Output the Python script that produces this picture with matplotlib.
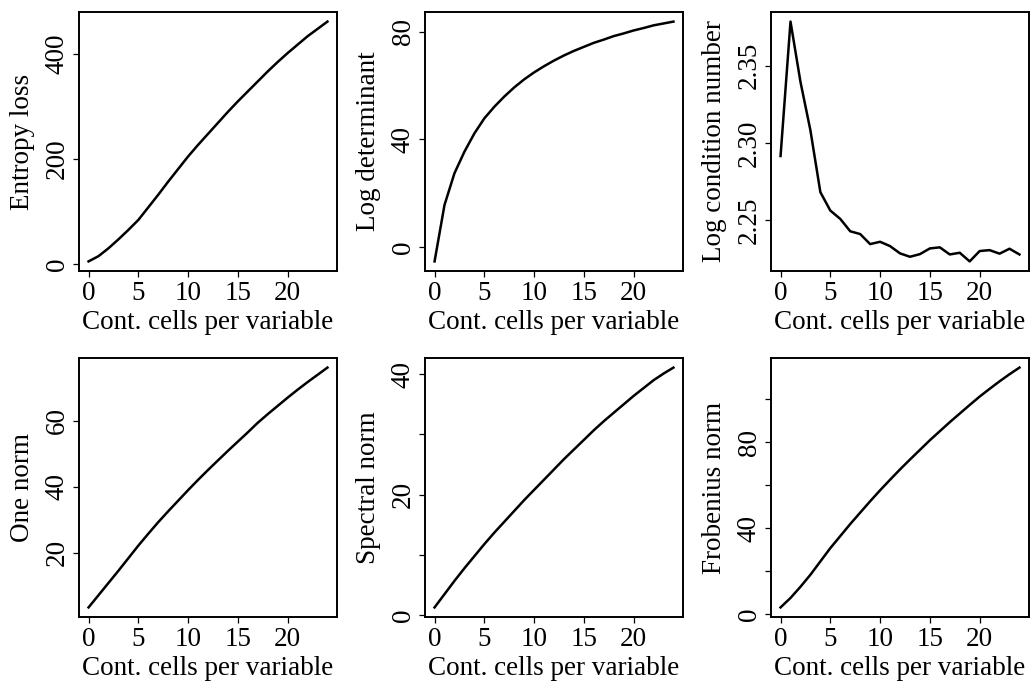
import numpy as np
from matplotlib import pyplot as plt

# Data
cells = list(range(25))

entropy_loss = [5, 15, 30, 47, 65, 84, 108, 132, 157, 181, 205, 227, 248, 269, 290,
                310, 329, 348, 367, 385, 402, 418, 434, 448, 462]
log_det = [-5.4, 15.6, 27.4, 35.4, 42.2, 47.8, 52.1, 55.9, 59.3, 62.3, 64.9, 67.2, 69.3,
           71.2, 72.9, 74.4, 75.9, 77.1, 78.4, 79.4, 80.5, 81.4, 82.4, 83.1, 83.8]
log_cond = [2.2916, 2.3786, 2.3396, 2.3082, 2.2682, 2.2563, 2.2509, 2.2429, 2.2411, 2.2346,
            2.2361, 2.2333, 2.2286, 2.2264, 2.2281, 2.2318, 2.2325, 2.2279, 2.2290, 2.2234,
            2.2301, 2.2307, 2.2284, 2.2316, 2.2279]
one_norm = [3.5, 7.2, 10.9, 14.6, 18.4, 22.2, 25.8, 29.3, 32.6, 35.8, 39.0, 42.1, 45.1,
            48.0, 50.9, 53.7, 56.5, 59.4, 62.0, 64.5, 67.0, 69.4, 71.7, 73.9, 76.1]
spectral_norm = [1.3, 3.5, 5.7, 7.8, 9.8, 11.8, 13.7, 15.5, 17.3, 19.1, 20.8, 22.5, 24.2,
                 25.9, 27.5, 29.1, 30.7, 32.2, 33.6, 35.0, 36.4, 37.7, 39.0, 40.1, 41.1]
frob_norm = [3.1, 7.5, 12.7, 18.3, 24.5, 30.7, 36.3, 41.9, 47.2, 52.5, 57.6, 62.5, 67.3,
             71.9, 76.4, 80.9, 85.1, 89.3, 93.3, 97.3, 101.2, 104.8, 108.3, 111.6, 114.7]

xticks = [0, 5, 10, 15, 20]

# (series, ylabel, tick positions, labelled ticks)
panels = [
	(entropy_loss, "Entropy loss", [0, 200, 400], ["0", "200", "400"]),
	(log_det, "Log determinant", [0, 40, 80], ["0", "40", "80"]),
	(log_cond, "Log condition number", [2.25, 2.30, 2.35], ["2.25", "2.30", "2.35"]),
	(one_norm, "One norm", [20, 40, 60], ["20", "40", "60"]),
	(spectral_norm, "Spectral norm", [0, 10, 20, 30, 40], ["0", "", "20", "", "40"]),
	(frob_norm, "Frobenius norm", [0, 20, 40, 60, 80, 100], ["0", "", "40", "", "80", ""]),
]

plt.rcParams['font.family'] = ['Liberation Serif', 'DejaVu Serif']
plt.rcParams['font.size'] = 19.5

W, H = 1033, 686
fig = plt.figure(figsize=(W / 100, H / 100), dpi=100)

for i, (vals, ylab, yt, ytl) in enumerate(panels):
	col = i % 3
	row = i // 3
	left = 79 + 346 * col
	top = 12 + 346 * row
	ax = fig.add_axes([left / W, 1 - (top + 259) / H, 258 / W, 259 / H])

	ax.plot(cells, vals, 'k', linewidth=1.8)
	ax.margins(0.04)

	ax.set_xticks(xticks)
	ax.set_yticks(yt)
	ax.set_yticklabels(ytl)
	ax.tick_params(direction='out', length=4.5, width=0.9, color='k')
	ax.tick_params(axis='x', pad=3)
	ax.tick_params(axis='y', labelrotation=90, pad=2)
	for lab in ax.get_yticklabels():
		lab.set_va('center')

	for s in ax.spines.values():
		s.set_linewidth(1.4)

	ax.set_xlabel("Cont. cells per variable")
	ax.xaxis.set_label_coords(0.5, -0.15)
	ax.set_ylabel(ylab)
	ax.yaxis.set_label_coords(-0.17, 0.5)

fig.savefig("out.png", dpi=100)
